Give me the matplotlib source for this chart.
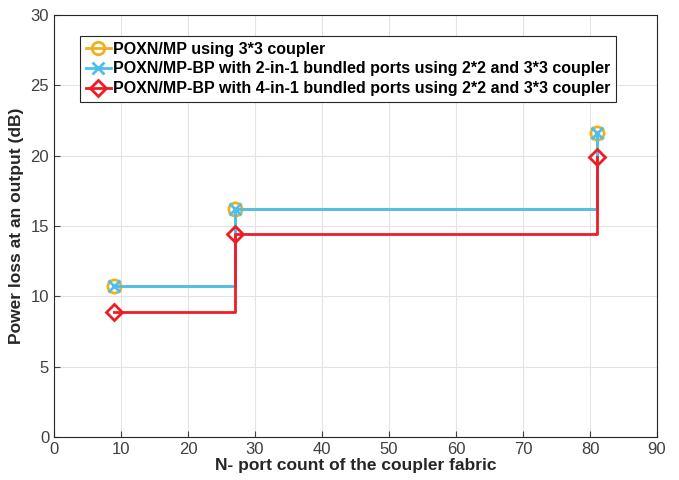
import matplotlib.pyplot as plt

plt.rcParams['font.family'] = ['Liberation Sans', 'DejaVu Sans']

# port counts and loss (dB) for each scheme
ports = [9, 27, 81]
loss_poxn = [10.7, 16.2, 21.6]
loss_bp2 = [10.7, 16.2, 21.6]
loss_bp4 = [8.9, 14.4, 19.9]

labels = ['POXN/MP using 3*3 coupler',
          'POXN/MP-BP with 2-in-1 bundled ports using 2*2 and 3*3 coupler',
          'POXN/MP-BP with 4-in-1 bundled ports using 2*2 and 3*3 coupler']

fig = plt.figure(figsize=(6.79, 4.8), dpi=100)
ax = fig.add_axes([54 / 679, 43 / 480, 603 / 679, 422 / 480])

yellow = '#EDB120'
cyan = '#4DBEEE'
red = '#EE1C25'

ax.step(ports, loss_poxn, where='post', color=yellow, lw=2, zorder=2)
ax.plot(ports, loss_poxn, 'o', color=yellow, mfc='none', mew=2, ms=9.5, zorder=2)
ax.step(ports, loss_bp2, where='post', color=cyan, lw=2, zorder=3)
ax.plot(ports, loss_bp2, 'x', color=cyan, mew=2, ms=8, zorder=3)
ax.step(ports, loss_bp4, where='post', color=red, lw=2, zorder=4)
ax.plot(ports, loss_bp4, 'D', color=red, mfc='none', mew=2, ms=8.5, zorder=4)

# legend proxies: line with marker
h1, = ax.plot([], [], '-o', color=yellow, mfc='none', mew=2, ms=9, lw=2)
h2, = ax.plot([], [], '-x', color=cyan, mew=2, ms=8, lw=2)
h3, = ax.plot([], [], '-D', color=red, mfc='none', mew=2, ms=8, lw=2)
leg = ax.legend([h1, h2, h3], labels, loc='upper left', bbox_to_anchor=(0.043, 0.95),
                prop={'weight': 'bold', 'size': 11.5}, handlelength=1.6,
                handletextpad=0.15, borderpad=0.35, labelspacing=0.3,
                fancybox=False, framealpha=1, borderaxespad=0)
leg.get_frame().set_edgecolor('#262626')
leg.get_frame().set_linewidth(0.8)

ax.set_xlim(0, 90)
ax.set_ylim(0, 30)
ax.set_xticks(range(0, 91, 10))
ax.set_yticks(range(0, 31, 5))
ax.grid(True, color='#e3e3e3', lw=0.8)
ax.set_axisbelow(True)
ax.tick_params(direction='in', length=4, colors='#404040', labelsize=12)
for s in ax.spines.values():
    s.set_color('#262626')
    s.set_linewidth(0.8)

ax.set_xlabel('N- port count of the coupler fabric', fontsize=12.5, fontweight='bold',
              color='#262626', labelpad=1)
ax.set_ylabel('Power loss at an output (dB)', fontsize=12.5, fontweight='bold',
              color='#262626', labelpad=5)

fig.savefig('out.png', dpi=100)
